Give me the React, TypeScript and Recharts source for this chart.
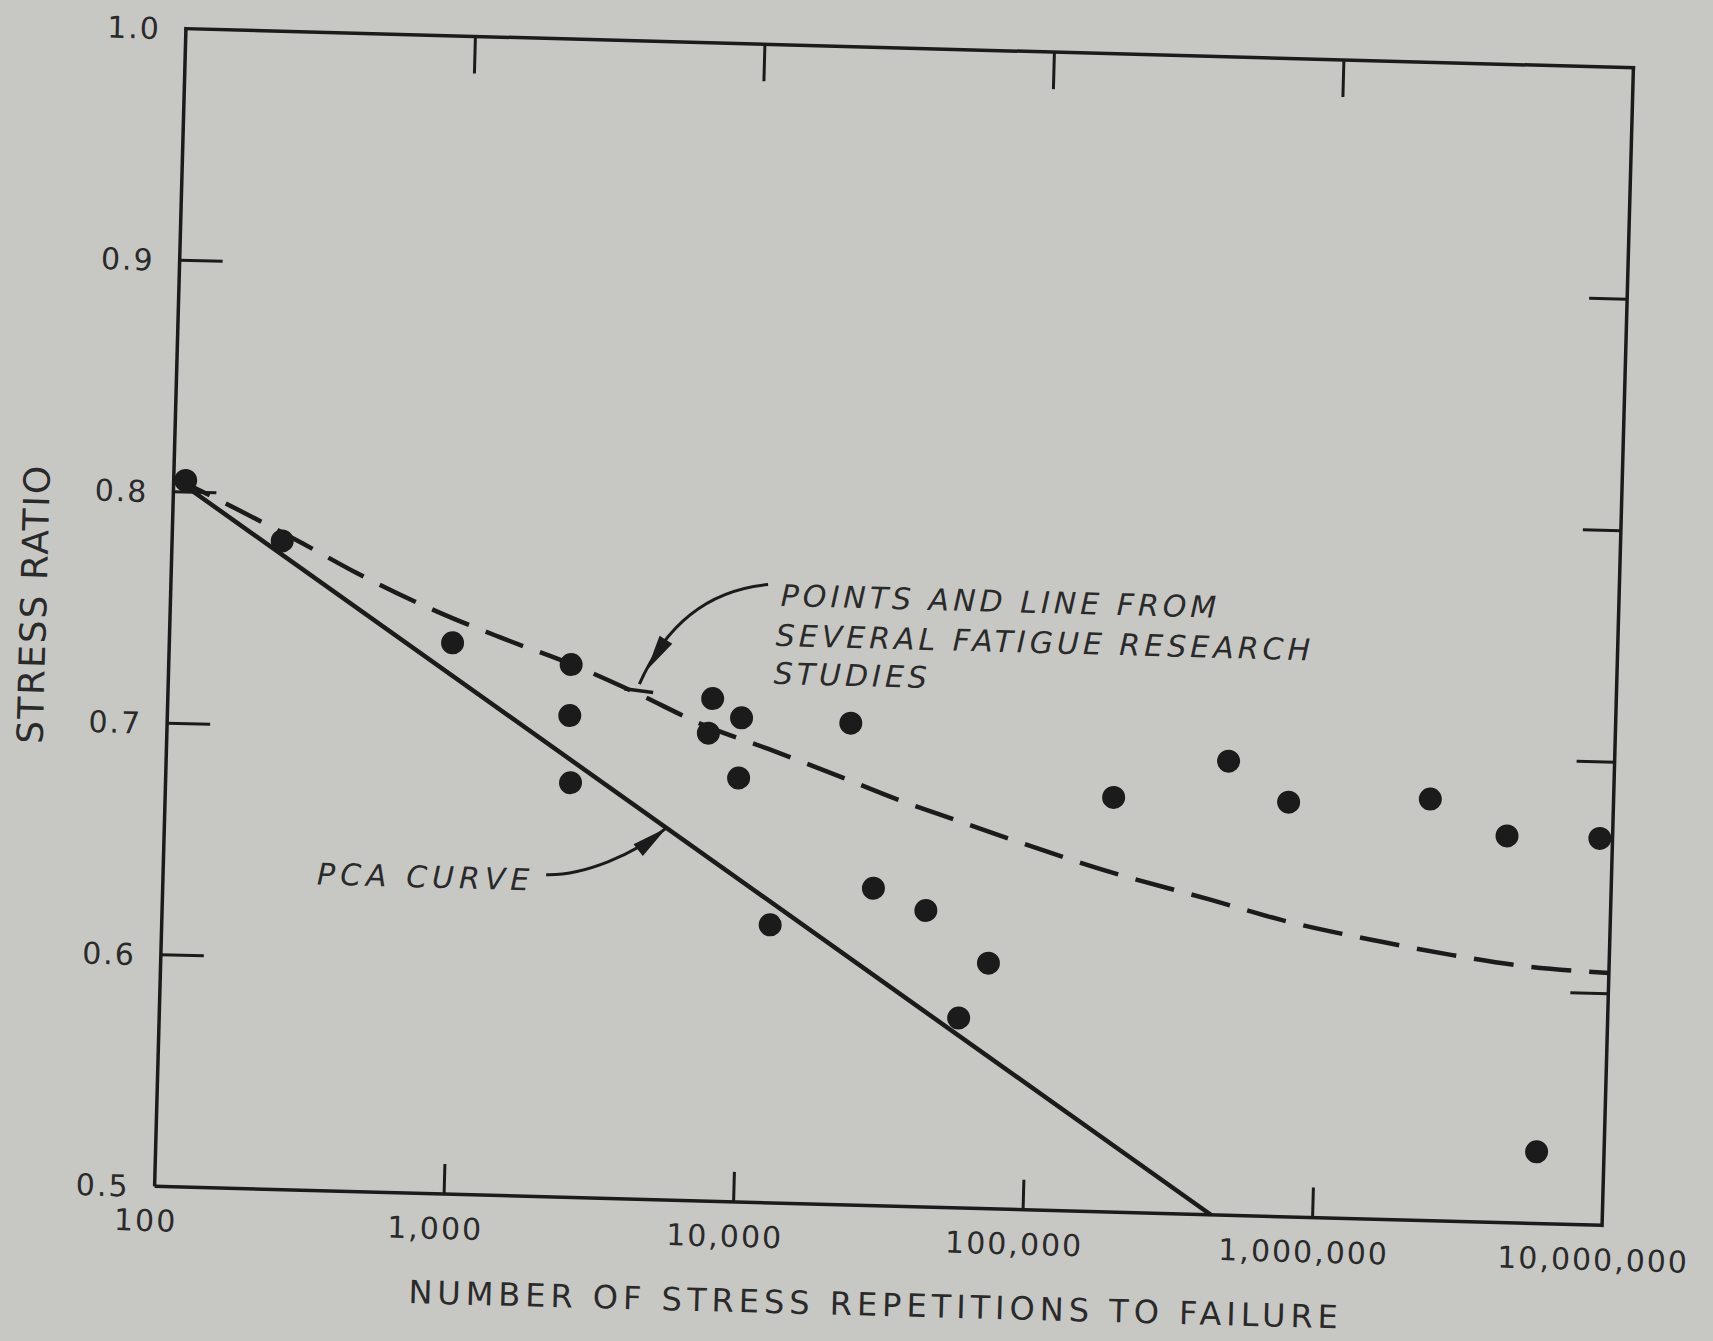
import { ComposedChart, Line, Scatter, XAxis, YAxis } from "recharts";

// Fatigue test results: cycles to failure vs. stress ratio
const researchCycles = [110, 240, 950, 2450, 2450, 2500, 7600, 7400, 9600, 9500, 22900, 12600, 28400, 43300, 57500, 72000, 188000, 465000, 756000, 2330000, 4320000, 9040000, 5850000];
const researchRatio = [0.805, 0.78, 0.738, 0.73, 0.708, 0.679, 0.717, 0.702, 0.709, 0.683, 0.708, 0.62, 0.637, 0.628, 0.582, 0.606, 0.679, 0.696, 0.679, 0.682, 0.667, 0.667, 0.531];

// Dashed curve through the research points
const trendCycles = [100, 138, 284, 437, 847, 1380, 2470, 4050, 7260, 11900, 20000, 34800, 55200, 87500, 171000, 414000, 736000, 1600000, 2840000, 5050000, 10000000];
const trendRatio = [0.806, 0.798, 0.779, 0.767, 0.751, 0.741, 0.73, 0.719, 0.705, 0.696, 0.686, 0.675, 0.667, 0.659, 0.648, 0.636, 0.628, 0.62, 0.615, 0.611, 0.609];

// PCA design curve (straight on the log axis)
const pcaCycles = [100, 445000];
const pcaRatio = [0.806, 0.5];

const xTicks = [100, 1000, 10000, 100000, 1000000, 10000000];
const yTicks = [0.5, 0.6, 0.7, 0.8, 0.9, 1.0];

const research = researchCycles.map((n, i) => ({ n, s: researchRatio[i] }));
const trend = trendCycles.map((n, i) => ({ n, s: trendRatio[i] }));
const pca = pcaCycles.map((n, i) => ({ n, s: pcaRatio[i] }));

const W = 1713;
const H = 1341;
const PLOT = { left: 170, top: 48, right: 1618, bottom: 1206 };
const PLOT_W = PLOT.right - PLOT.left;
const PLOT_H = PLOT.bottom - PLOT.top;
const INK = "#1b1b1b";
const TEXT = "#2a2a2a";
const PAPER = "#c7c8c4";
const FONT = "'DejaVu Sans', 'Liberation Sans', sans-serif";
const AXIS_W = 3.5;

// bottom labels, plus the inward ticks on the bottom and top edges of the frame
const BottomTick = ({ x, y, payload }: any) => {
  const v = payload.value;
  const inner = v > 100 && v < 10000000;
  return (
    <g>
      {inner && <line x1={x} y1={y} x2={x} y2={y - 30} stroke={INK} strokeWidth={3} />}
      {inner && <line x1={x} y1={y - PLOT_H} x2={x} y2={y - PLOT_H + 37} stroke={INK} strokeWidth={3} />}
      <text x={x - 8} y={y + 45} textAnchor="middle" fontSize={30} letterSpacing={2} fill={TEXT} fontFamily={FONT}>
        {v.toLocaleString("en-US")}
      </text>
    </g>
  );
};

// left labels, plus the inward ticks on the left and right edges of the frame
const LeftTick = ({ x, y, payload }: any) => {
  const v = payload.value;
  const inner = v > 0.5 && v < 1.0;
  return (
    <g>
      {inner && <line x1={x} y1={y} x2={x + 43} y2={y} stroke={INK} strokeWidth={3} />}
      {inner && <line x1={x + PLOT_W} y1={y} x2={x + PLOT_W - 38} y2={y} stroke={INK} strokeWidth={3} />}
      <text x={x - 25} y={y + 11} textAnchor="end" fontSize={30} letterSpacing={2} fill={TEXT} fontFamily={FONT}>
        {v.toFixed(1)}
      </text>
    </g>
  );
};

const Dot = ({ cx, cy }: any) => <circle cx={cx} cy={cy} r={11.5} fill={INK} />;

// filled arrowhead with its tip at (tx, ty) pointing along (dx, dy)
function arrowHead(tx: number, ty: number, dx: number, dy: number, len: number, half: number) {
  const m = Math.hypot(dx, dy);
  const ux = dx / m;
  const uy = dy / m;
  const bx = tx - ux * len;
  const by = ty - uy * len;
  return `${tx},${ty} ${bx - uy * half},${by + ux * half} ${bx + uy * half},${by - ux * half}`;
}

function Notes() {
  const note = { fontSize: 30, letterSpacing: 4, fill: TEXT, fontFamily: FONT, fontStyle: "italic" } as const;
  return (
    <svg width={W} height={H} style={{ position: "absolute", left: 0, top: 0, pointerEvents: "none" }}>
      {/* axis titles */}
      <text x={894} y={1316} textAnchor="middle" fontSize={32} letterSpacing={5} fill={TEXT} fontFamily={FONT}>
        NUMBER OF STRESS REPETITIONS TO FAILURE
      </text>
      <text
        transform="translate(46 627) rotate(-90)"
        textAnchor="middle"
        fontSize={36}
        letterSpacing={2}
        fill={TEXT}
        fontFamily={FONT}
      >
        STRESS RATIO
      </text>

      {/* top and right edges of the frame */}
      <line x1={PLOT.left} y1={PLOT.top} x2={PLOT.right} y2={PLOT.top} stroke={INK} strokeWidth={AXIS_W} strokeLinecap="square" />
      <line x1={PLOT.right} y1={PLOT.top} x2={PLOT.right} y2={PLOT.bottom} stroke={INK} strokeWidth={AXIS_W} strokeLinecap="square" />

      {/* research label and pointer */}
      <text x={780} y={609} {...note}>POINTS AND LINE FROM</text>
      <text x={776} y={649} {...note}>SEVERAL FATIGUE RESEARCH</text>
      <text x={775} y={687} {...note}>STUDIES</text>
      <path d="M 767 588 C 700 596, 662 640, 641 691" fill="none" stroke={INK} strokeWidth={3} />
      <polygon points={arrowHead(648, 677, -0.51, 0.86, 36, 7.5)} fill={INK} />
      <line x1={626} y1={696} x2={655} y2={699} stroke={INK} strokeWidth={3.5} />

      {/* PCA label and pointer */}
      <text x={324} y={900} {...note} letterSpacing={5}>PCA CURVE</text>
      <path d="M 553 884 C 590 884, 640 862, 672 834" fill="none" stroke={INK} strokeWidth={3} />
      <polygon points={arrowHead(672, 834, 0.77, -0.64, 36, 7.5)} fill={INK} />
    </svg>
  );
}

export default function App() {
  return (
    <div style={{ position: "absolute", left: 0, top: 0, width: W, height: H, background: PAPER, overflow: "hidden" }}>
      <div
        style={{
          position: "absolute",
          left: 0,
          top: 0,
          width: W,
          height: H,
          transform: "rotate(1.55deg)",
          transformOrigin: "894px 627px",
        }}
      >
        <ComposedChart
          width={W}
          height={H}
          margin={{ top: PLOT.top, left: PLOT.left - 100, right: W - PLOT.right, bottom: H - PLOT.bottom - 60 }}
        >
          <XAxis
            xAxisId="bottom"
            dataKey="n"
            type="number"
            scale="log"
            domain={[100, 10000000]}
            ticks={xTicks}
            interval={0}
            height={60}
            tickSize={0}
            tickMargin={0}
            tickLine={false}
            axisLine={{ stroke: INK, strokeWidth: AXIS_W }}
            tick={<BottomTick />}
          />
          <YAxis
            yAxisId="left"
            dataKey="s"
            type="number"
            domain={[0.5, 1]}
            ticks={yTicks}
            interval={0}
            width={100}
            tickSize={0}
            tickMargin={0}
            tickLine={false}
            axisLine={{ stroke: INK, strokeWidth: AXIS_W }}
            tick={<LeftTick />}
          />
          <Line
            xAxisId="bottom"
            yAxisId="left"
            data={pca}
            dataKey="s"
            stroke={INK}
            strokeWidth={4.5}
            dot={false}
            activeDot={false}
            isAnimationActive={false}
          />
          <Line
            xAxisId="bottom"
            yAxisId="left"
            data={trend}
            dataKey="s"
            type="monotone"
            stroke={INK}
            strokeWidth={4.5}
            strokeDasharray="40 18"
            dot={false}
            activeDot={false}
            isAnimationActive={false}
          />
          <Scatter
            xAxisId="bottom"
            yAxisId="left"
            data={research}
            dataKey="s"
            shape={<Dot />}
            isAnimationActive={false}
          />
        </ComposedChart>
        <Notes />
      </div>
    </div>
  );
}
